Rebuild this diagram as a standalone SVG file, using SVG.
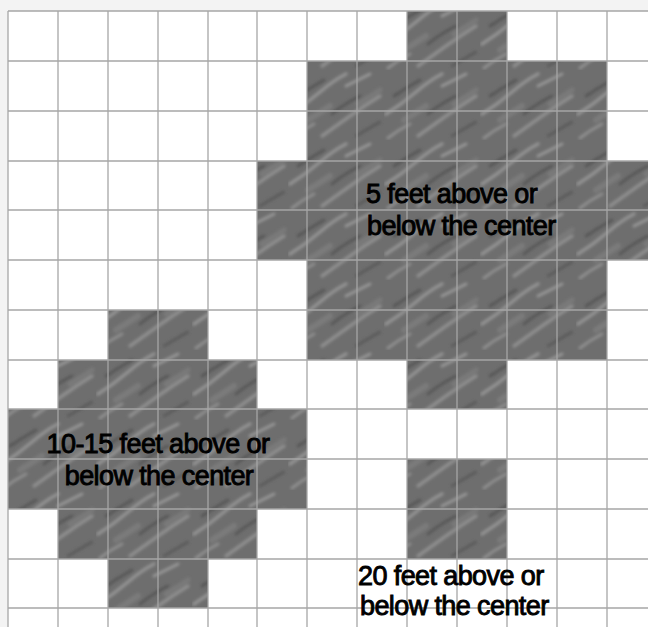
<svg xmlns="http://www.w3.org/2000/svg" width="648" height="627" viewBox="0 0 648 627">
  <defs>
    <filter id="soft" x="-10%" y="-10%" width="120%" height="120%">
      <feGaussianBlur stdDeviation="1.6"/>
    </filter>
    <pattern id="rock" patternUnits="userSpaceOnUse" width="96" height="70">
      <rect width="96" height="70" fill="#6e6e6e"/>
      <g filter="url(#soft)" fill="none" stroke-linecap="round">
        <path d="M2 44 Q18 34 32 22 T58 4" stroke="#939393" stroke-width="3.6"/>
        <path d="M34 66 Q48 56 62 46 T92 26" stroke="#8f8f8f" stroke-width="3.4"/>
        <path d="M58 16 Q70 10 82 4" stroke="#989898" stroke-width="3"/>
        <path d="M4 68 Q14 60 26 54" stroke="#909090" stroke-width="3"/>
        <path d="M10 26 Q22 18 36 10" stroke="#575757" stroke-width="3"/>
        <path d="M44 44 Q56 34 72 26" stroke="#565656" stroke-width="2.8"/>
        <path d="M68 66 Q78 60 92 52" stroke="#5a5a5a" stroke-width="2.6"/>
        <path d="M20 50 Q30 44 42 36" stroke="#808080" stroke-width="6" opacity="0.7"/>
        <path d="M70 34 Q80 28 92 20" stroke="#828282" stroke-width="5" opacity="0.6"/>
      </g>
    </pattern>
    <style>
      .shade { fill: url(#rock); }
      .grid line { stroke: #a6a6a6; stroke-width: 1.3; }
      .lbl { font-family: "Liberation Sans", Arial, sans-serif; font-size: 27px; fill: #000; stroke: #000; stroke-width: 0.9; letter-spacing: -0.6px; }
    </style>
  </defs>

  <g id="background">
    <rect x="0" y="0" width="648" height="627" fill="#f3f3f3"/>
    <rect x="8" y="11" width="640" height="616" fill="#ffffff"/>
  </g>

  <g id="zone-5ft">
    <path class="shade" d="M407 11 H507 V61 H607 V161 H648 V260 H607 V360 H507 V409 H407 V360 H307 V260 H257 V161 H307 V61 H407 Z"/>
  </g>
  <g id="zone-10-15ft">
    <path class="shade" d="M108 310 H208 V360 H257 V409 H307 V509 H257 V559 H208 V608 H108 V559 H58 V509 H8 V409 H58 V360 H108 Z"/>
  </g>
  <g id="zone-20ft">
    <rect class="shade" x="407" y="459" width="100" height="100"/>
  </g>

  <g class="grid" id="grid">
    <line x1="8" y1="11" x2="8" y2="627"/>
    <line x1="58" y1="11" x2="58" y2="627"/>
    <line x1="108" y1="11" x2="108" y2="627"/>
    <line x1="158" y1="11" x2="158" y2="627"/>
    <line x1="208" y1="11" x2="208" y2="627"/>
    <line x1="257" y1="11" x2="257" y2="627"/>
    <line x1="307" y1="11" x2="307" y2="627"/>
    <line x1="357" y1="11" x2="357" y2="627"/>
    <line x1="407" y1="11" x2="407" y2="627"/>
    <line x1="457" y1="11" x2="457" y2="627"/>
    <line x1="507" y1="11" x2="507" y2="627"/>
    <line x1="557" y1="11" x2="557" y2="627"/>
    <line x1="607" y1="11" x2="607" y2="627"/>
    <line x1="8" y1="11" x2="648" y2="11"/>
    <line x1="8" y1="61" x2="648" y2="61"/>
    <line x1="8" y1="111" x2="648" y2="111"/>
    <line x1="8" y1="161" x2="648" y2="161"/>
    <line x1="8" y1="210" x2="648" y2="210"/>
    <line x1="8" y1="260" x2="648" y2="260"/>
    <line x1="8" y1="310" x2="648" y2="310"/>
    <line x1="8" y1="360" x2="648" y2="360"/>
    <line x1="8" y1="409" x2="648" y2="409"/>
    <line x1="8" y1="459" x2="648" y2="459"/>
    <line x1="8" y1="509" x2="648" y2="509"/>
    <line x1="8" y1="559" x2="648" y2="559"/>
    <line x1="8" y1="608" x2="648" y2="608"/>
  </g>

  <g id="label-5ft">
    <text class="lbl" x="366" y="203">5 feet above or</text>
    <text class="lbl" x="367" y="235">below the center</text>
  </g>
  <g id="label-10-15ft">
    <text class="lbl" x="158" y="453" text-anchor="middle">10-15 feet above or</text>
    <text class="lbl" x="159" y="485" text-anchor="middle">below the center</text>
  </g>
  <g id="label-20ft">
    <text class="lbl" x="358" y="585">20 feet above or</text>
    <text class="lbl" x="360" y="615">below the center</text>
  </g>
</svg>
